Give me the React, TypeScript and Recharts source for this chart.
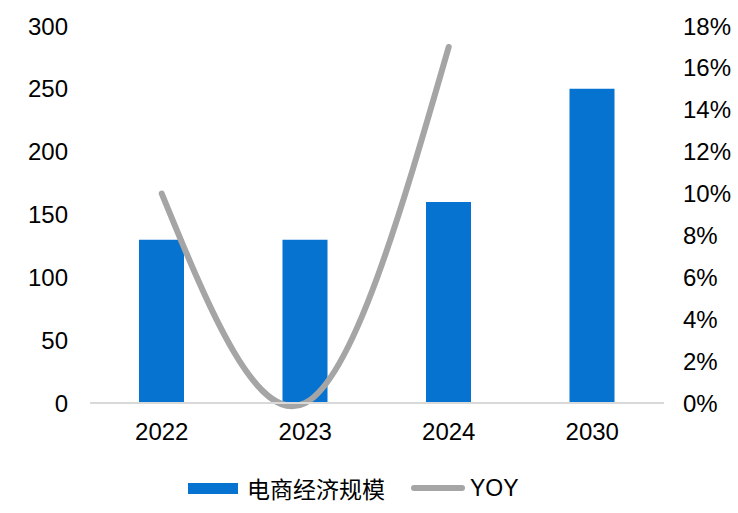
import React from "react";
import { ComposedChart, Bar, Line, XAxis, YAxis } from "recharts";

const years = ["2022", "2023", "2024", "2030"];
const scale = [130, 130, 160, 250];
const yoy = [0.1, 0.0, 0.17, null];
const leftTicks = [0, 50, 100, 150, 200, 250, 300];
const rightTicks = [0, 0.02, 0.04, 0.06, 0.08, 0.1, 0.12, 0.14, 0.16, 0.18];

const BLUE = "#0773D1";
const GREY = "#A5A5A5";
const FONT = "'Liberation Sans', Arial, sans-serif";

const data = years.map((y, i) => ({ year: y, scale: scale[i], yoy: yoy[i] }));

// legend drawn outside the svg so it doesn't eat into the plot area
const LegendBox = () => (
  <div
    style={{
      position: "absolute",
      left: 188,
      top: 471,
      display: "flex",
      alignItems: "center",
      fontFamily: FONT,
      color: "#000",
      whiteSpace: "nowrap",
    }}
  >
    <span style={{ display: "inline-block", width: 50, height: 11, background: BLUE, marginRight: 9 }} />
    <span style={{ fontFamily: "'Noto Sans CJK SC', sans-serif", fontSize: 23, marginRight: 26 }}>电商经济规模</span>
    <span style={{ display: "inline-block", width: 54, height: 6, borderRadius: 3, background: GREY, marginRight: 5 }} />
    <span style={{ fontSize: 23, fontFamily: "'Liberation Sans Narrow', 'Liberation Sans', sans-serif" }}>YOY</span>
  </div>
);

export default function App() {
  return (
    <div style={{ position: "absolute", left: 0, top: 0, width: 738, height: 513, background: "#fff" }}>
      <ComposedChart
        width={738}
        height={513}
        data={data}
        margin={{ top: 26, right: 0, bottom: 0, left: 0 }}
        barCategoryGap={0}
      >
        <XAxis
          dataKey="year"
          axisLine={{ stroke: "#D9D9D9", strokeWidth: 2 }}
          tickLine={false}
          tickSize={0}
          tickMargin={20}
          height={110}
          tick={{ fill: "#000", fontSize: 24, fontFamily: FONT }}
        />
        <YAxis
          yAxisId="left"
          orientation="left"
          domain={[0, 300]}
          ticks={leftTicks}
          width={90}
          axisLine={false}
          tickLine={false}
          tickSize={0}
          tickMargin={22}
          tick={{ fill: "#000", fontSize: 24, fontFamily: FONT }}
        />
        <YAxis
          yAxisId="right"
          orientation="right"
          domain={[0, 0.18]}
          ticks={rightTicks}
          width={74}
          axisLine={false}
          tickLine={false}
          tickSize={0}
          tickMargin={19}
          tickFormatter={(v: number) => `${Math.round(v * 100)}%`}
          tick={{ fill: "#000", fontSize: 24, fontFamily: FONT }}
        />
        <Bar
          yAxisId="left"
          dataKey="scale"
          fill={BLUE}
          barSize={45}
          isAnimationActive={false}
        />
        <Line
          yAxisId="right"
          dataKey="yoy"
          type="natural"
          stroke={GREY}
          strokeWidth={6}
          strokeLinecap="round"
          dot={false}
          activeDot={false}
          connectNulls={false}
          isAnimationActive={false}
        />
      </ComposedChart>
      <LegendBox />
    </div>
  );
}
